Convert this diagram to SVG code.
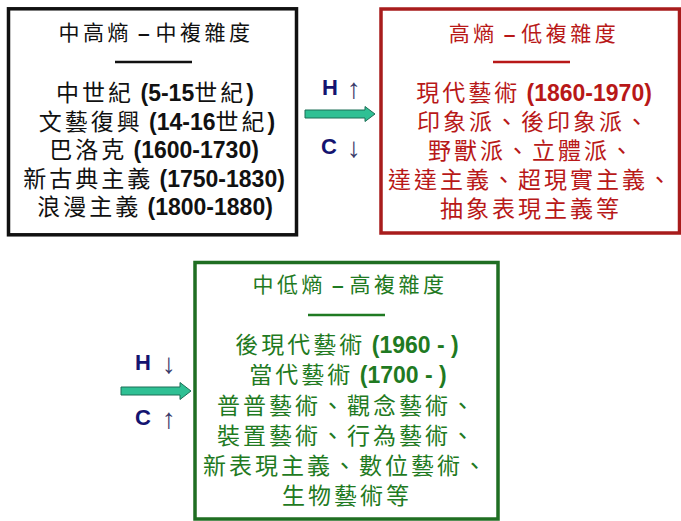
<svg xmlns="http://www.w3.org/2000/svg" width="681" height="521" viewBox="0 0 681 521">
<style>
.box{fill:#fff;stroke-width:3.5}
.t{font-family:"Liberation Sans","Noto Sans CJK TC",sans-serif;text-anchor:middle}
.ttl{font-size:21px;letter-spacing:3.5px}
.ln{font-size:23px;letter-spacing:3px}
.b{font-weight:bold;letter-spacing:0}
.blk{fill:#111}
.red{fill:#B81818}
.grn{fill:#1F7A22}
.ul{stroke-width:2.5}
.arr{fill:#2FC094;stroke:#1C6F56;stroke-width:1}
.hc{font-family:"Liberation Sans",sans-serif;font-size:22px;font-weight:bold;fill:#141470}
.ar{font-family:"Liberation Sans","DejaVu Sans",sans-serif;font-size:28px;fill:#3A3A6A}
</style>
<rect width="681" height="521" fill="#fff"/>
<g id="node-medium-high-entropy">
<rect class="box" x="8.5" y="8.8" width="288" height="226" stroke="#111"/>
<text class="t ttl blk" x="156" y="40">中高熵<tspan class="b"> – </tspan>中複雜度</text>
<line class="ul" x1="115" y1="62" x2="192" y2="62" stroke="#111"/>
<text class="t ln blk" x="155" y="101">中世紀<tspan class="b"> (5-15</tspan>世紀<tspan class="b">)</tspan></text>
<text class="t ln blk" x="157" y="129.5">文藝復興<tspan class="b"> (14-16</tspan>世紀<tspan class="b">)</tspan></text>
<text class="t ln blk" x="154" y="158">巴洛克<tspan class="b"> (1600-1730)</tspan></text>
<text class="t ln blk" x="154" y="186.5">新古典主義<tspan class="b"> (1750-1830)</tspan></text>
<text class="t ln blk" x="155" y="215">浪漫主義<tspan class="b"> (1800-1880)</tspan></text>
</g>
<g id="node-high-entropy">
<rect class="box" x="381" y="9" width="298.5" height="224" stroke="#A81C1C"/>
<text class="t ttl red" x="534" y="41">高熵<tspan class="b"> – </tspan>低複雜度</text>
<line class="ul" x1="493" y1="62" x2="570" y2="62" stroke="#B81818"/>
<text class="t ln red" x="534" y="101">現代藝術<tspan class="b"> (1860-1970)</tspan></text>
<text class="t ln red" x="534" y="130">印象派、後印象派、</text>
<text class="t ln red" x="532" y="159">野獸派、立體派、</text>
<text class="t ln red" x="531" y="188">達達主義、超現實主義、</text>
<text class="t ln red" x="531" y="217">抽象表現主義等</text>
</g>
<g id="node-medium-low-entropy">
<rect class="box" x="195" y="262.5" width="303" height="256.5" stroke="#1F6E22"/>
<text class="t ttl grn" x="350" y="292">中低熵<tspan class="b"> – </tspan>高複雜度</text>
<line class="ul" x1="308" y1="315" x2="385" y2="315" stroke="#1F7A22"/>
<text class="t ln grn" x="347" y="353">後現代藝術<tspan class="b"> (1960 - )</tspan></text>
<text class="t ln grn" x="348" y="383">當代藝術<tspan class="b"> (1700 - )</tspan></text>
<text class="t ln grn" x="347" y="414">普普藝術、觀念藝術、</text>
<text class="t ln grn" x="347" y="444">裝置藝術、行為藝術、</text>
<text class="t ln grn" x="346" y="474">新表現主義、數位藝術、</text>
<text class="t ln grn" x="347" y="504">生物藝術等</text>
</g>
<g id="connectors">
<path class="arr" d="M305,110 H365 V106.5 L375,114 L365,121.5 V118 H305 Z"/>
<text class="hc" x="322" y="95">H</text>
<text class="ar" x="347" y="98">↑</text>
<text class="hc" x="321" y="154">C</text>
<text class="ar" x="347" y="157">↓</text>
<path class="arr" d="M121,387 H180 V382.5 L191,391 L180,399.5 V395 H121 Z"/>
<text class="hc" x="135" y="370">H</text>
<text class="ar" x="162" y="373">↓</text>
<text class="hc" x="135" y="425">C</text>
<text class="ar" x="162" y="428">↑</text>
</g>
</svg>
